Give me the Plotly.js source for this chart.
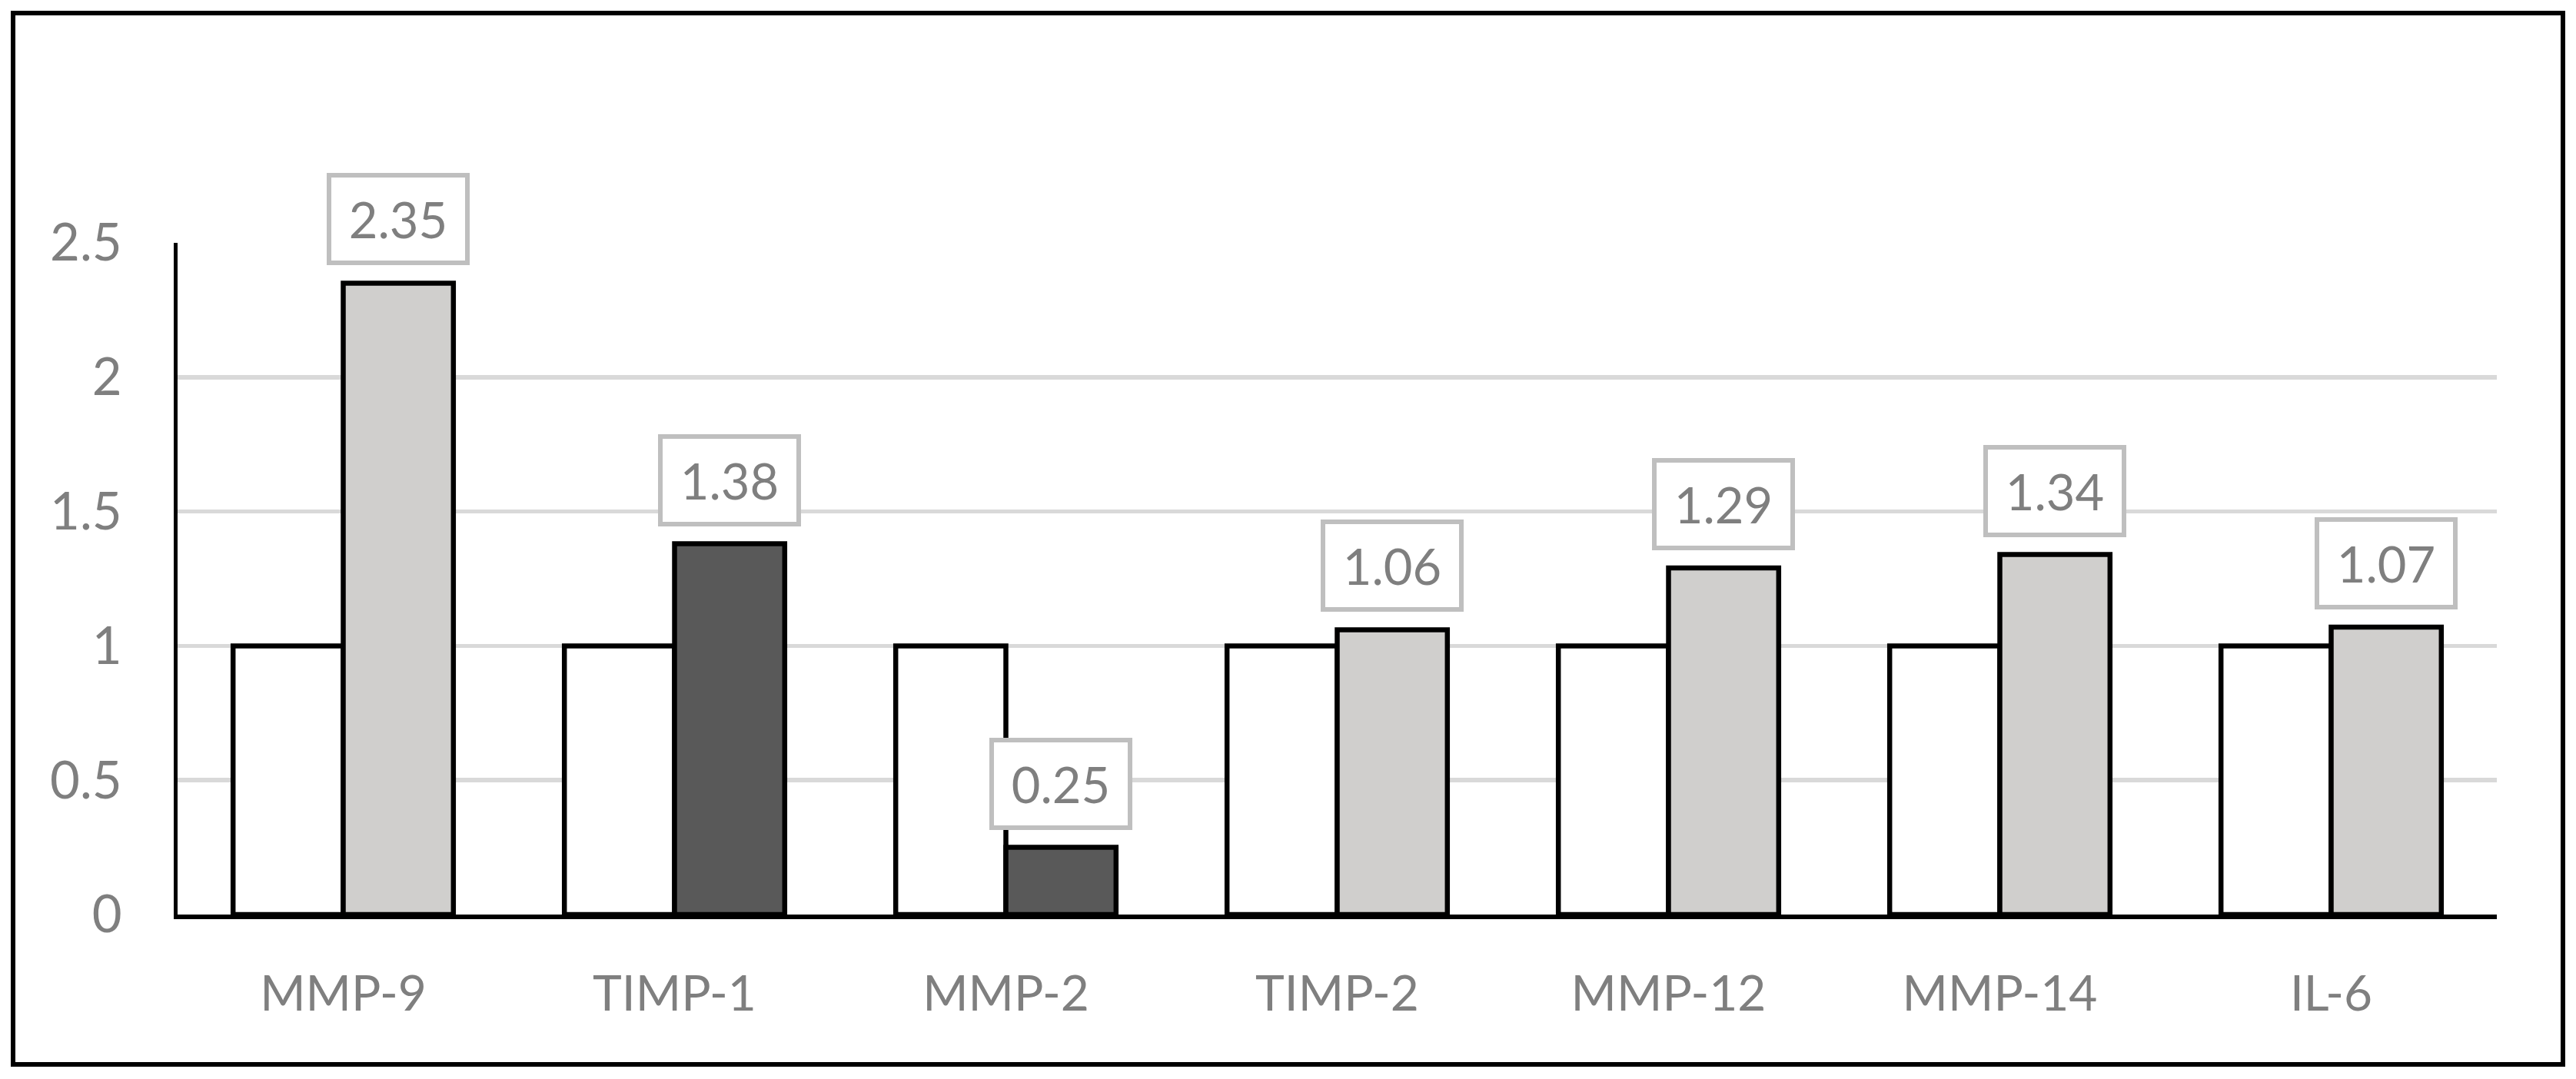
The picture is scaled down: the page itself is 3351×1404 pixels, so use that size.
<!DOCTYPE html>
<html>
<head>
<meta charset="utf-8">
<script src="https://cdn.plot.ly/plotly-3.0.1.min.js"></script>
<style>
  html, body { margin: 0; padding: 0; background: #ffffff; }
  #wrap { position: relative; width: 3351px; height: 1404px; }
  #chart { position: absolute; left: 0; top: 0; width: 3351px; height: 1404px; }
  #frame { position: absolute; left: 14px; top: 14px; width: 3323px; height: 1374px;
           border: 6px solid #000; box-sizing: border-box; pointer-events: none; }
</style>
</head>
<body>
<div id="wrap">
  <div id="chart"></div>
  <div id="frame"></div>
</div>
<script>
// ---- data ----
const categories = ['MMP-9', 'TIMP-1', 'MMP-2', 'TIMP-2', 'MMP-12', 'MMP-14', 'IL-6'];
const controlValues = [1, 1, 1, 1, 1, 1, 1];
const treatmentValues = [2.35, 1.38, 0.25, 1.06, 1.29, 1.34, 1.07];
const treatmentColors = ['#D0CFCD', '#595959', '#595959', '#D0CFCD', '#D0CFCD', '#D0CFCD', '#D0CFCD'];
const yTickVals = [0, 0.5, 1, 1.5, 2, 2.5];
const yTickText = ['0', '0.5', '1', '1.5', '2', '2.5'];

const FONT = 'Lato, "Open Sans", sans-serif';
const TEXT_GREY = '#7F7F7F';
const BARGAP = 0.335;
const offset = (1 - BARGAP) / 4;

const traces = [
  {
    type: 'bar', x: categories, y: controlValues, name: 'Control',
    marker: { color: '#FFFFFF', line: { color: '#000000', width: 6.5 } },
    hoverinfo: 'x+y'
  },
  {
    type: 'bar', x: categories, y: treatmentValues, name: 'Treatment',
    marker: { color: treatmentColors, line: { color: '#000000', width: 6.5 } },
    hoverinfo: 'x+y'
  }
];

const annotations = treatmentValues.map((v, i) => ({
  x: i + offset, y: v, xref: 'x', yref: 'y',
  text: v.toFixed(2), showarrow: false,
  xanchor: 'center', yanchor: 'bottom', yshift: 23,
  font: { family: FONT, size: 65, color: TEXT_GREY },
  bgcolor: '#FFFFFF', bordercolor: '#BFBFBF', borderwidth: 6, borderpad: 3,
  width: 168, height: 102
}));

const layout = {
  width: 3351, height: 1404,
  margin: { l: 231, r: 103, t: 316, b: 214, pad: 0 },
  paper_bgcolor: '#FFFFFF', plot_bgcolor: '#FFFFFF',
  showlegend: false,
  barmode: 'group', bargap: BARGAP, bargroupgap: 0,
  font: { family: FONT, size: 64, color: TEXT_GREY },
  xaxis: {
    type: 'category', showline: true, linecolor: '#000000', linewidth: 6,
    ticks: '', showgrid: false, zeroline: false,
    tickfont: { family: FONT, size: 64, color: TEXT_GREY },
    ticklabelstandoff: 42
  },
  yaxis: {
    range: [0, 2.5], tickvals: yTickVals, ticktext: yTickText,
    showline: true, linecolor: '#000000', linewidth: 5,
    showgrid: true, gridcolor: '#D9D9D9', gridwidth: 5.5,
    zeroline: false, ticks: '',
    tickfont: { family: FONT, size: 67, color: TEXT_GREY },
    ticklabelstandoff: 54
  },
  annotations: annotations
};

Plotly.newPlot('chart', traces, layout, { staticPlot: true, displayModeBar: false });
</script>
</body>
</html>
